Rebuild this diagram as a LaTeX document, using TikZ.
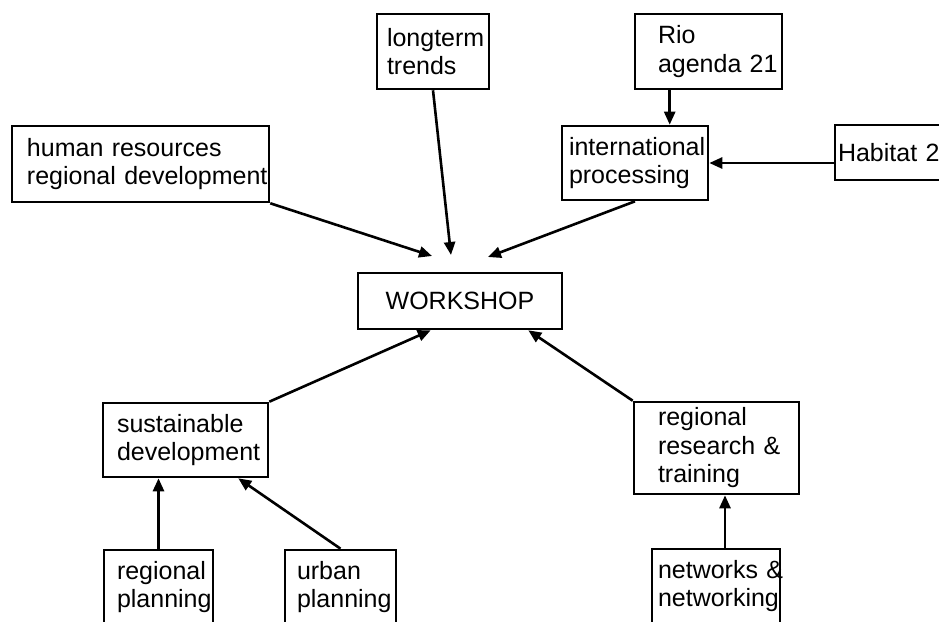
\documentclass[tikz,border=0pt]{standalone}
\usepackage{fontspec}
\setmainfont{Liberation Sans}
\usetikzlibrary{arrows.meta,calc}
\hyphenpenalty=10000
\exhyphenpenalty=10000

\tikzset{every picture/.style={line width=2.6pt}}
\tikzset{
  box/.style={draw, rectangle, line width=2.6pt, inner ysep=0pt, align=left,
    font=\fontsize{25}{28.5}\selectfont},
  arr/.style={line width=2.6pt, -{Triangle[length=13pt,width=11pt]}}
}

\begin{document}
\begin{tikzpicture}[x=1pt,y=1pt,yscale=-1,xscale=1]
\useasboundingbox (0,0) rectangle (939,621);
\clip (0,0) rectangle (939,621);

% Text Node
\node [box, minimum height=75, text width=92, inner xsep=10] (longterm) at (433,51.5) {longterm\\trends};
% Text Node
\node [box, minimum height=76, text width=227, inner xsep=15] (human) at (140.5,164) {human~resources\\regional~development};
% Text Node
\node [box, minimum height=75, text width=101, inner xsep=23] (rio) at (708.5,51.5) {Rio\\agenda~21};
% Text Node
\node [box, minimum height=74, text width=132, inner xsep=7] (intl) at (635,163) {international\\processing};
% Text Node
\node [box, minimum height=55, text width=124, inner xsep=3] (habitat) at (900,152.5) {Habitat~2};
% Text Node
\node [box, minimum width=204, minimum height=56] (ws) at (460,301) {WORKSHOP};
% Text Node
\node [box, minimum height=74, text width=137, inner xsep=14] (sust) at (185.5,440) {sustainable\\development};
% Text Node
\node [box, minimum height=74, text width=83, inner xsep=13] (rp) at (158.5,587) {regional\\planning};
% Text Node
\node [box, minimum height=74, text width=87, inner xsep=12] (urban) at (340.5,587) {urban\\planning};
% Text Node
\node [box, minimum height=92, text width=117, inner xsep=24] (research) at (716.5,448) {regional\\research~\&\\training};
% Text Node
\node [box, minimum height=74, text width=116, inner xsep=6] (networks) at (716,586) {networks~\&\\networking};

% free ends above WORKSHOP
\coordinate (hrtip) at (432,256);
\coordinate (lttip) at (451,255);
\coordinate (intip) at (488,257);

%Straight Lines
\draw [arr] (human.south east) -- (hrtip);
%Straight Lines
\draw [arr] (longterm.south) -- (lttip);
%Straight Lines
\draw [arr] (intl.south) -- (intip);
%Straight Lines
\draw [arr] ([xshift=36pt]rio.south west) -- ([xshift=36pt]rio.south west |- intl.north);
%Straight Lines
\draw [arr] (habitat.west |- intl.east) -- (intl.east);
%Straight Lines
\draw [arr] (sust.north east) -- ([xshift=74pt]ws.south west);
%Straight Lines
\draw [arr] (research.north west) -- ([xshift=-35pt]ws.south east);
%Straight Lines
\draw [arr] (rp.north) -- (rp.north |- sust.south);
%Straight Lines
\draw [arr] (urban.north) -- ([xshift=-31pt]sust.south east);
%Straight Lines
\draw [arr] ([xshift=9pt]networks.north) -- ([xshift=9pt]networks.north |- research.south);

\end{tikzpicture}
\end{document}
